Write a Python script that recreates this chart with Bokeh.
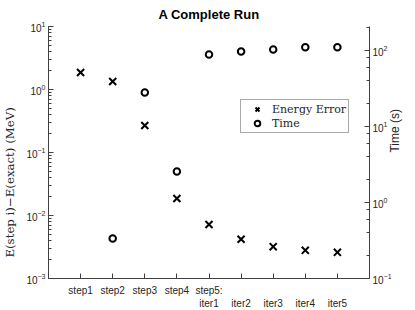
import math
import numpy as np
from bokeh.plotting import figure
from bokeh.models import (Range1d, LogAxis, LogScale, FixedTicker, Legend,
                          LegendItem, ColumnDataSource)
from bokeh.embed import file_html
from bokeh.resources import INLINE

# ---- data ----
categories = ["step1", "step2", "step3", "step4", "step5:\niter1",
              "\niter2", "\niter3", "\niter4", "\niter5"]
energy_error = [1.86, 1.34, 0.268, 0.0186, 0.0072, 0.0042, 0.0032, 0.0028, 0.0026]
time_s = [np.nan, 0.336, 28.0, 2.56, 88.5, 97.0, 103.0, 110.0, 110.0]

title = "A Complete Run"
left_label = "E(step i)\u2212E(exact) (MeV)"
right_label = "Time (s)"
legend_labels = ["Energy Error", "Time"]

xpos = list(range(1, len(categories) + 1))
src = ColumnDataSource(dict(x=xpos, err=energy_error, t=time_s))

AX = "#404040"
TXT = "#262626"

p = figure(frame_width=321, frame_height=252, title=title,
           x_range=Range1d(0, len(categories) + 1),
           y_range=Range1d(1e-3, 1e1), y_axis_type="log",
           output_backend="svg", toolbar_location=None,
           min_border_left=46, min_border_right=0,
           min_border_top=0, min_border_bottom=0)

p.extra_y_ranges = {"time": Range1d(0.1, 10 ** (-1 + 252 / 76))}
p.extra_y_scales = {"time": LogScale()}

p.outline_line_color = None
p.xgrid.visible = False
p.ygrid.visible = False
p.background_fill_color = "white"
p.border_fill_color = "white"

p.title.align = "center"
p.title.text_font = "Liberation Sans"
p.title.text_font_size = "13px"
p.title.text_font_style = "bold"
p.title.text_color = "black"
p.title.offset = 0
p.title.standoff = 9

# x axis
xa = p.xaxis[0]
xa.ticker = FixedTicker(ticks=xpos)
xa.major_label_overrides = {xv: c for xv, c in zip(xpos, categories)}

# left axis
ya = p.yaxis[0]
ya.axis_label = left_label + "\u00a0" * 16
ya.axis_label_text_font = "DejaVu Serif"
ya.axis_label_text_font_size = "11.75px"
ya.axis_label_text_font_style = "normal"
ya.axis_label_text_color = TXT
ya.axis_label_standoff = 6

# right axis
ra = LogAxis(y_range_name="time", axis_label=right_label)
ra.axis_label_text_font = "Liberation Sans"
ra.axis_label_text_font_size = "12px"
ra.axis_label_text_font_style = "normal"
ra.axis_label_text_color = TXT
ra.axis_label_standoff = 0
try:
    ra.axis_label_orientation = math.pi / 2
except Exception:
    pass
p.add_layout(ra, "right")

for ax in (xa, ya, ra):
    ax.axis_line_color = AX
    ax.major_tick_line_color = AX
    ax.minor_tick_line_color = AX if ax is not xa else None
    ax.major_tick_in = 5
    ax.major_tick_out = 0
    ax.minor_tick_in = 3
    ax.minor_tick_out = 0
    ax.major_label_text_font = "Liberation Sans"
    ax.major_label_text_font_size = "10px"
    ax.major_label_text_color = TXT
    ax.major_label_standoff = 3
xa.major_label_standoff = 6

r_err = p.scatter("x", "err", source=src, marker="x", size=10,
                  line_color="black", line_width=2)
r_time = p.scatter("x", "t", source=src, marker="circle", size=6.5,
                   fill_color=None, line_color="black", line_width=2,
                   y_range_name="time")

legend = Legend(items=[LegendItem(label=legend_labels[0], renderers=[r_err]),
                       LegendItem(label=legend_labels[1], renderers=[r_time])],
                location=(192, 145))
legend.border_line_color = "#555555"
legend.border_line_width = 1
legend.background_fill_color = "white"
legend.label_text_font = "DejaVu Serif"
legend.label_text_font_size = "11px"
legend.label_text_color = TXT
legend.padding = 2
legend.spacing = 0
legend.margin = 0
legend.glyph_width = 28
legend.glyph_height = 14
legend.label_height = 14
legend.label_standoff = 1
p.add_layout(legend, "center")

open("out.html", "w").write(file_html(p, INLINE))
